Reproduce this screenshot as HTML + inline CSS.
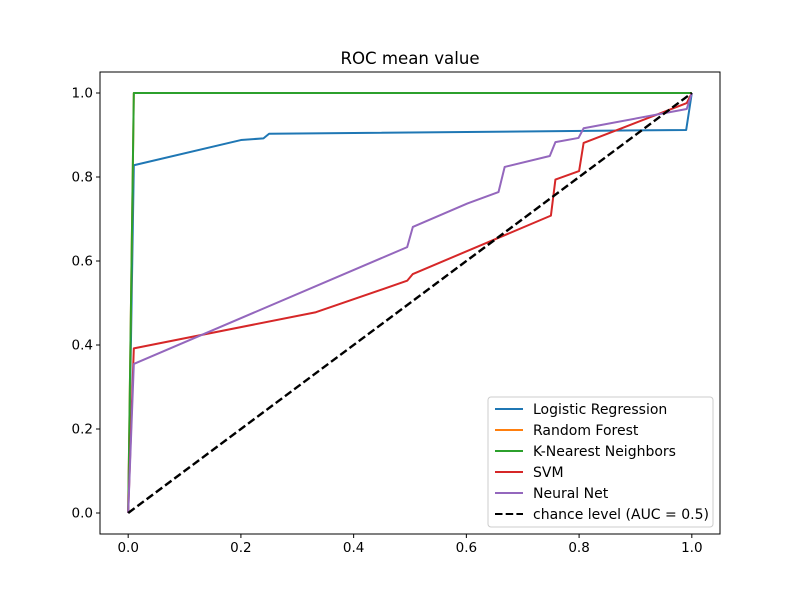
<!DOCTYPE html>
<html><head><meta charset="utf-8"><style>
body{margin:0;background:#fff}
svg text{font-family:"DejaVu Sans","Liberation Sans",sans-serif;fill:#000}
</style></head><body>
<svg id="chart" width="800" height="600" xmlns="http://www.w3.org/2000/svg">
<rect width="800" height="600" fill="#fff"/>
<text x="410" y="64" font-size="16.6" text-anchor="middle">ROC mean value</text>
<g id="plot"></g>
</svg>
<script>
const seriesNames=["Logistic Regression","Random Forest","K-Nearest Neighbors","SVM","Neural Net"];
const seriesColors=["#1f77b4","#ff7f0e","#2ca02c","#d62728","#9467bd"];
const lrX=[0,0.01,0.2,0.24,0.25,0.99,1];
const lrY=[0,0.828,0.888,0.892,0.903,0.912,1];
const rfX=[0,0.01,1];
const rfY=[0,1,1];
const knnX=[0,0.01,1];
const knnY=[0,1,1];
const svmX=[0,0.01,0.333,0.495,0.505,0.75,0.758,0.80,0.808,0.991,1];
const svmY=[0,0.392,0.478,0.553,0.569,0.708,0.794,0.814,0.881,0.976,1];
const nnX=[0,0.01,0.495,0.505,0.602,0.657,0.668,0.748,0.758,0.799,0.808,0.991,1];
const nnY=[0,0.355,0.633,0.681,0.737,0.764,0.824,0.85,0.883,0.893,0.916,0.962,1];
const chanceX=[0,1];
const chanceY=[0,1];
const xTicks=[0,0.2,0.4,0.6,0.8,1.0];
const yTicks=[0,0.2,0.4,0.6,0.8,1.0];
const tickLabels=["0.0","0.2","0.4","0.6","0.8","1.0"];

const L=100,R=720,T=72,B=534;
const sx=v=>L+(v+0.05)/1.1*(R-L);
const sy=v=>B-(v+0.05)/1.1*(B-T);
const NS="http://www.w3.org/2000/svg";
const g=document.getElementById('plot');
function mk(tag,attrs,parent){const e=document.createElementNS(NS,tag);for(const k in attrs)e.setAttribute(k,attrs[k]);(parent||g).appendChild(e);return e;}
const pts=(xs,ys)=>xs.map((x,i)=>sx(x).toFixed(2)+","+sy(ys[i]).toFixed(2)).join(" ");

const allX=[lrX,rfX,knnX,svmX,nnX], allY=[lrY,rfY,knnY,svmY,nnY];
const keys=["logistic-regression","random-forest","k-nearest-neighbors","svm","neural-net"];
for(let i=0;i<5;i++){
  const p=mk('polyline',{points:pts(allX[i],allY[i]),fill:'none',stroke:seriesColors[i],'stroke-width':2,'stroke-linejoin':'round'});
  
  
}
const ch=mk('polyline',{points:pts(chanceX,chanceY),fill:'none',stroke:'#000','stroke-width':2.4,'stroke-dasharray':'8,3.5'});



const frame=mk('rect',{x:L,y:T,width:R-L,height:B-T,fill:'none',stroke:'#000','stroke-width':1});



xTicks.forEach((v,i)=>{
  const t=mk('line',{x1:sx(v),x2:sx(v),y1:B,y2:B+4,stroke:'#000'});
  
  
  const l=mk('text',{x:sx(v),y:B+18,'font-size':13.5,'text-anchor':'middle'});
  l.textContent=tickLabels[i];
  
  
});
yTicks.forEach((v,i)=>{
  const t=mk('line',{x1:L-4,x2:L,y1:sy(v),y2:sy(v),stroke:'#000'});
  
  
  const l=mk('text',{x:L-7,y:sy(v)+4.5,'font-size':13.5,'text-anchor':'end'});
  l.textContent=tickLabels[i];
  
  
});

const lg=mk('g',{});


mk('rect',{x:488,y:397,width:225,height:130,rx:3,fill:'#fff','fill-opacity':0.8,stroke:'#ccc'},lg);
const labels=seriesNames.concat(["chance level (AUC = 0.5)"]);
labels.forEach((n,i)=>{
  const y=409+i*21;
  const e=mk('g',{},lg);
  
  
  const ln={x1:495,x2:523,y1:y,y2:y,stroke:i<5?seriesColors[i]:'#000','stroke-width':2};
  if(i==5)ln['stroke-dasharray']='7.5,3.2';
  mk('line',ln,e);
  const t=mk('text',{x:533,y:y+5,'font-size':14},e);
  t.textContent=n;
});
</script>
</body></html>
